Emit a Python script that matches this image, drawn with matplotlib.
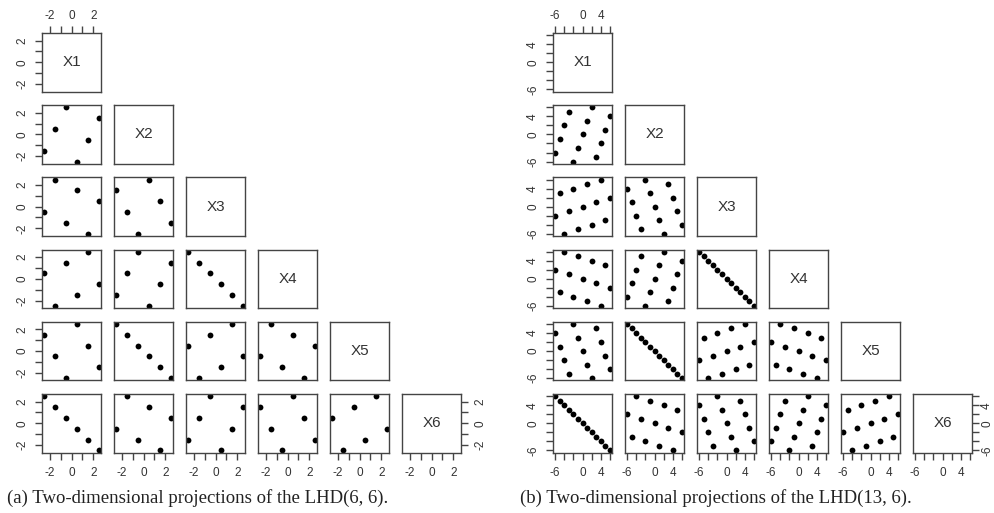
import numpy as np
import matplotlib.pyplot as plt

# LHD(6, 6) design, one list per column
a_x1 = [-2.5, -1.5, -0.5, 0.5, 1.5, 2.5]
a_x2 = [-1.5, 0.5, 2.5, -2.5, -0.5, 1.5]
a_x3 = [-0.5, 2.5, -1.5, 1.5, -2.5, 0.5]
a_x4 = [0.5, -2.5, 1.5, -1.5, 2.5, -0.5]
a_x5 = [1.5, -0.5, -2.5, 2.5, 0.5, -1.5]
a_x6 = [2.5, 1.5, 0.5, -0.5, -1.5, -2.5]

# LHD(13, 6) design
b_x1 = [-6, -5, -4, -3, -2, -1, 0, 1, 2, 3, 4, 5, 6]
b_x2 = [-4, -1, 2, 5, -6, -3, 0, 3, 6, -5, -2, 1, 4]
b_x3 = [-2, 3, -6, -1, 4, -5, 0, 5, -4, 1, 6, -3, 2]
b_x4 = [2, -3, 6, 1, -4, 5, 0, -5, 4, -1, -6, 3, -2]
b_x5 = [4, 1, -2, -5, 6, 3, 0, -3, -6, 5, 2, -1, -4]
b_x6 = [6, 5, 4, 3, 2, 1, 0, -1, -2, -3, -4, -5, -6]

names = ['X1', 'X2', 'X3', 'X4', 'X5', 'X6']

a_ticks = [-2, -1, 0, 1, 2]
a_labels = ['-2', '', '0', '', '2']
b_ticks = [-6, -4, -2, 0, 2, 4, 6]
b_labels = ['-6', '', '', '0', '', '4', '']

caption_a = '(a) Two-dimensional projections of the LHD(6, 6).'
caption_b = '(b) Two-dimensional projections of the LHD(13, 6).'

W, H = 994, 513
BOX_W, BOX_H = 59, 58.5
STEP_X, STEP_Y = 72, 72.2
INK = '#333333'

plt.rcParams['font.family'] = ['Liberation Sans', 'DejaVu Sans']

fig = plt.figure(figsize=(W / 100, H / 100), dpi=100)


def pairs_lower(cols, x_left, ticks, labels, right_pad):
    lo, hi = min(cols[0]), max(cols[0])
    pad = 0.04 * (hi - lo)
    lim = (lo - pad, hi + pad)
    n = len(cols)
    for i in range(n):
        for j in range(i + 1):
            x0 = x_left + j * STEP_X
            y0 = 33 + i * STEP_Y
            ax = fig.add_axes([x0 / W, 1 - (y0 + BOX_H) / H, BOX_W / W, BOX_H / H])
            ax.set_xlim(lim)
            ax.set_ylim(lim)
            for s in ax.spines.values():
                s.set_color('#444444')
                s.set_linewidth(1.0)
            if i == j:
                ax.text(0.5, 0.5, names[i], transform=ax.transAxes, ha='center',
                        va='center', fontsize=11, color=INK)
            else:
                ax.plot(cols[j], cols[i], 'o', color='black', markersize=4.2,
                        markeredgewidth=0)

            ax.tick_params(length=5, width=1.0, color='#444444', labelsize=8.5,
                           labelcolor=INK, pad=5,
                           top=False, bottom=False, left=False, right=False,
                           labeltop=False, labelbottom=False, labelleft=False,
                           labelright=False)
            ax.set_xticks(ticks)
            ax.set_xticklabels(labels)
            ax.set_yticks(ticks)
            ax.set_yticklabels(labels, rotation=90, va='center')

            if i == 0 and j == 0:
                ax.tick_params(axis='x', top=True, labeltop=True, pad=3)
            if i == n - 1:
                ax.tick_params(axis='x', bottom=True, labelbottom=True, pad=5.5)
            if j == 0:
                ax.tick_params(axis='y', left=True, labelleft=True, pad=5)
            if i == n - 1 and j == n - 1:
                ax.tick_params(axis='y', right=True, labelright=True, pad=right_pad)


pairs_lower([a_x1, a_x2, a_x3, a_x4, a_x5, a_x6], 42, a_ticks, a_labels, 5)
pairs_lower([b_x1, b_x2, b_x3, b_x4, b_x5, b_x6], 553, b_ticks, b_labels, 1.5)

fig.text(7 / W, 1 - 498 / H, caption_a, ha='left', va='center', fontsize=13.5,
         color='#222222', family=['Liberation Serif', 'DejaVu Serif'])
fig.text(520 / W, 1 - 498 / H, caption_b, ha='left', va='center', fontsize=13.5,
         color='#222222', family=['Liberation Serif', 'DejaVu Serif'])

fig.savefig('out.png', dpi=100)
